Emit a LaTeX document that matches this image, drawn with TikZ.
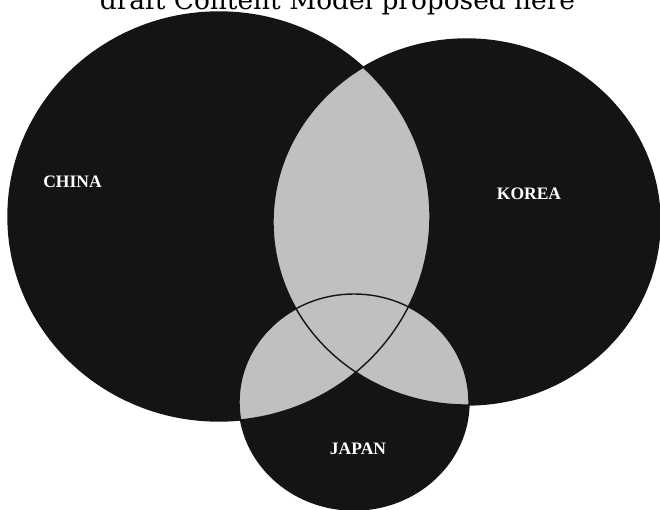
\documentclass[tikz,border=0pt]{standalone}
\usepackage{fontspec}
\newfontfamily\labelfont{Liberation Serif}
\newfontfamily\titlefont{DejaVu Serif}
\definecolor{vblack}{RGB}{20,20,20}
\definecolor{vgrey}{RGB}{192,192,192}
\begin{document}
\begin{tikzpicture}[x=1pt,y=-1pt,
  setlabel/.style={text=white,font=\labelfont\bfseries\fontsize{17.5}{18}\selectfont,inner sep=0pt},
  titletext/.style={font=\titlefont\fontsize{26.4}{28}\selectfont,inner sep=0pt,text=black},
  outline/.style={draw=vblack,line width=1.4pt}]
\useasboundingbox (0,0) rectangle (660,510);
\fill[white] (0,0) rectangle (660,510);
\def\china{(219,216.5) ellipse [x radius=211, y radius=204.5]}
\def\korea{(466.5,222) ellipse [x radius=193.5, y radius=183]}
\def\japan{(354,402) ellipse [x radius=115, y radius=108]}
% single-set regions
\fill[vblack] \china;
\fill[vblack] \korea;
\fill[vblack] \japan;
% overlaps
\begin{scope}
  \clip \china;
  \fill[vgrey] \korea;
  \fill[vgrey] \japan;
\end{scope}
\begin{scope}
  \clip \korea;
  \fill[vgrey] \japan;
\end{scope}
% outlines
\draw[outline] \china;
\draw[outline] \korea;
\draw[outline] \japan;
% labels
\node[setlabel] (chinalabel) at (72.5,181.5) {CHINA};
\node[setlabel] (korealabel) at (529,194) {KOREA};
\node[setlabel] (japanlabel) at (358,449) {JAPAN};
\node[titletext,anchor=base] (title) at (337.5,9.5) {draft Content Model proposed here};
\end{tikzpicture}
\end{document}
